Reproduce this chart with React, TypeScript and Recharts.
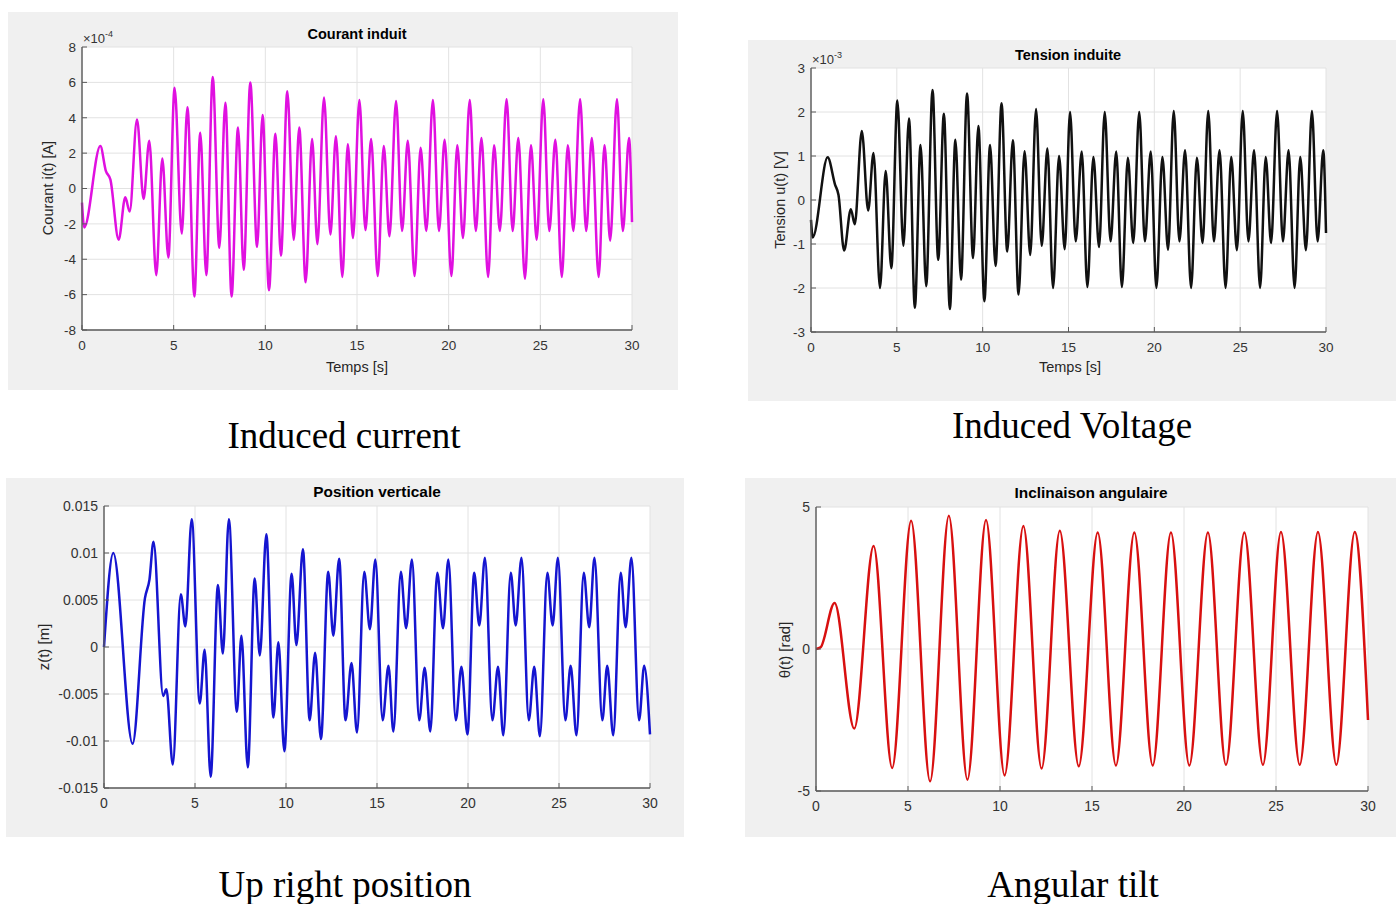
import React from 'react';
import { LineChart, Line, XAxis, YAxis, CartesianGrid } from 'recharts';

const SANS = '"Liberation Sans", Arial, Helvetica, sans-serif';
const SERIF = '"Liberation Serif", "Times New Roman", serif';

const timeTicks = [0, 5, 10, 15, 20, 25, 30];

// ---- Courant induit (units of 1e-4 A) ----
const courantT = [0, 0.12, 1.0, 1.3, 1.55, 2.0, 2.36, 2.6, 3.0, 3.36, 3.67, 4.05, 4.38, 4.71, 5.05, 5.44, 5.75, 6.13, 6.45, 6.78, 7.13, 7.49, 7.82, 8.16, 8.51, 8.82, 9.18, 9.55, 9.85, 10.2, 10.55, 10.85, 11.2, 11.55, 11.85, 12.2, 12.55, 12.84, 13.2, 13.55, 13.85, 14.2, 14.5, 14.78, 15.13, 15.46, 15.77, 16.13, 16.46, 16.77, 17.13, 17.46, 17.77, 18.14, 18.47, 18.78, 19.14, 19.47, 19.78, 20.15, 20.47, 20.78, 21.15, 21.48, 21.79, 22.15, 22.48, 22.79, 23.16, 23.49, 23.8, 24.16, 24.49, 24.8, 25.16, 25.49, 25.82, 26.17, 26.5, 26.8, 27.17, 27.5, 27.81, 28.18, 28.5, 28.81, 29.18, 29.5, 29.84, 30];
const courantI = [-0.8, -2.2, 2.4, 1.0, 0.5, -2.9, -0.5, -1.3, 3.9, -0.6, 2.7, -4.9, 1.7, -3.9, 5.7, -2.55, 4.6, -6.1, 3.15, -4.9, 6.3, -3.35, 4.85, -6.1, 3.45, -4.6, 6.0, -3.3, 4.15, -5.75, 3.1, -3.8, 5.5, -2.9, 3.45, -5.3, 2.8, -3.15, 5.15, -2.6, 2.95, -5.0, 2.5, -2.8, 5.0, -2.35, 2.8, -4.95, 2.4, -2.7, 4.95, -2.4, 2.7, -4.95, 2.3, -2.4, 5.0, -2.4, 2.75, -4.95, 2.45, -2.8, 5.0, -2.4, 2.85, -5.0, 2.45, -2.4, 5.05, -2.4, 2.85, -5.1, 2.45, -2.9, 5.05, -2.4, 2.75, -5.0, 2.45, -2.4, 5.05, -2.4, 2.85, -5.0, 2.45, -2.95, 5.05, -2.4, 2.85, -1.9];
const courantTicks = [-8, -6, -4, -2, 0, 2, 4, 6, 8];

// ---- Tension induite (units of 1e-3 V) ----
const tensionT = [0, 0.1, 0.97, 1.4, 1.6, 1.93, 2.32, 2.55, 2.96, 3.33, 3.64, 4.02, 4.35, 4.68, 5.03, 5.38, 5.71, 6.05, 6.38, 6.71, 7.08, 7.41, 7.74, 8.09, 8.41, 8.74, 9.09, 9.44, 9.75, 10.1, 10.43, 10.75, 11.1, 11.43, 11.76, 12.09, 12.44, 12.77, 13.11, 13.44, 13.77, 14.1, 14.45, 14.78, 15.09, 15.42, 15.77, 16.1, 16.45, 16.78, 17.11, 17.45, 17.78, 18.11, 18.46, 18.77, 19.12, 19.45, 19.79, 20.12, 20.47, 20.8, 21.13, 21.46, 21.79, 22.14, 22.48, 22.81, 23.14, 23.47, 23.8, 24.15, 24.48, 24.81, 25.15, 25.48, 25.81, 26.16, 26.49, 26.8, 27.15, 27.49, 27.82, 28.17, 28.5, 28.83, 29.18, 29.51, 29.84, 30];
const tensionU = [-0.45, -0.85, 0.97, 0.35, 0.12, -1.15, -0.21, -0.55, 1.57, -0.24, 1.07, -2.0, 0.66, -1.55, 2.26, -1.04, 1.85, -2.45, 1.25, -1.96, 2.5, -1.36, 1.96, -2.48, 1.37, -1.81, 2.42, -1.32, 1.68, -2.3, 1.25, -1.5, 2.2, -1.17, 1.36, -2.15, 1.11, -1.25, 2.07, -1.04, 1.17, -2.0, 1.0, -1.12, 2.0, -0.94, 1.1, -1.98, 0.98, -1.07, 2.0, -0.94, 1.1, -1.98, 0.96, -0.98, 2.0, -0.94, 1.1, -2.0, 0.98, -1.13, 2.02, -0.94, 1.13, -2.0, 0.96, -0.98, 2.02, -0.94, 1.13, -2.0, 0.98, -1.14, 2.02, -0.94, 1.13, -2.0, 0.98, -0.98, 2.02, -0.94, 1.13, -2.0, 0.98, -1.14, 2.02, -0.94, 1.13, -0.75];
const tensionTicks = [-3, -2, -1, 0, 1, 2, 3];

// ---- Position verticale (m) ----
const positionT = [0, 0.51, 1.57, 2.25, 2.5, 2.72, 3.25, 3.43, 3.78, 4.22, 4.47, 4.82, 5.26, 5.53, 5.86, 6.26, 6.53, 6.86, 7.3, 7.55, 7.9, 8.28, 8.56, 8.92, 9.31, 9.58, 9.91, 10.31, 10.57, 10.93, 11.3, 11.6, 11.92, 12.32, 12.6, 12.92, 13.27, 13.6, 13.9, 14.3, 14.61, 14.91, 15.31, 15.63, 15.9, 16.31, 16.6, 16.92, 17.32, 17.62, 17.93, 18.31, 18.63, 18.92, 19.33, 19.64, 19.97, 20.34, 20.62, 20.93, 21.34, 21.65, 21.94, 22.35, 22.62, 22.94, 23.34, 23.64, 23.95, 24.36, 24.65, 24.94, 25.35, 25.64, 25.96, 26.36, 26.66, 26.95, 27.38, 27.65, 27.98, 28.39, 28.66, 28.98, 29.4, 29.68, 30];
const positionZ = [0, 0.01, -0.0103, 0.0052, 0.0072, 0.0112, -0.0052, -0.0045, -0.0125, 0.0056, 0.0022, 0.0136, -0.006, -0.0003, -0.0138, 0.0066, -0.0007, 0.0136, -0.0069, 0.0012, -0.0128, 0.0073, -0.0009, 0.012, -0.0075, 0.0005, -0.0111, 0.0078, 0.0002, 0.0104, -0.0078, -0.0006, -0.0098, 0.008, 0.0012, 0.0094, -0.0078, -0.0017, -0.0091, 0.008, 0.0019, 0.0093, -0.0078, -0.002, -0.009, 0.008, 0.002, 0.0093, -0.0078, -0.0022, -0.009, 0.0079, 0.002, 0.0093, -0.0078, -0.0021, -0.0093, 0.0079, 0.0023, 0.0095, -0.0078, -0.0021, -0.0094, 0.0079, 0.0023, 0.0095, -0.0078, -0.0021, -0.0095, 0.0079, 0.0023, 0.0095, -0.0078, -0.002, -0.0094, 0.0079, 0.0021, 0.0095, -0.0078, -0.002, -0.0094, 0.0079, 0.0021, 0.0095, -0.0078, -0.002, -0.0093];
const positionTicks = [-0.015, -0.01, -0.005, 0, 0.005, 0.01, 0.015];

// ---- Inclinaison angulaire (rad) ----
const angleT = [0, 0.25, 1.01, 2.08, 3.13, 4.14, 5.17, 6.2, 7.22, 8.23, 9.24, 10.25, 11.27, 12.26, 13.25, 14.28, 15.31, 16.3, 17.3, 18.3, 19.29, 20.29, 21.3, 22.28, 23.28, 24.29, 25.27, 26.29, 27.28, 28.28, 29.28, 30];
const angleTheta = [0, 0.06, 1.62, -2.8, 3.63, -4.19, 4.52, -4.66, 4.69, -4.6, 4.54, -4.45, 4.33, -4.21, 4.16, -4.13, 4.1, -4.1, 4.1, -4.1, 4.1, -4.1, 4.1, -4.08, 4.1, -4.08, 4.12, -4.08, 4.12, -4.08, 4.12, -2.5];
const angleTicks = [-5, 0, 5];

const zip = (ts: number[], vs: number[]) => ts.map((t, i) => ({ t, v: vs[i] }));

type Box = { x: number; y: number; w: number; h: number };
type Plot = { l: number; t: number; r: number; b: number };

interface PanelProps {
  box: Box;
  plot: Plot;
  data: { t: number; v: number }[];
  color: string;
  yDomain: [number, number];
  yTicks: number[];
  tickFont: number;
}

function Panel({ box, plot, data, color, yDomain, yTicks, tickFont }: PanelProps) {
  const axisColor = '#5a5a5a';
  const axisLine = { stroke: axisColor, strokeWidth: 1.4 };
  const tickLine = { stroke: axisColor, strokeWidth: 1 };
  const tickStyle = { fill: '#333', fontSize: tickFont, fontFamily: SANS };
  const blank = () => '';
  return (
    <div style={{ position: 'absolute', left: box.x, top: box.y, width: box.w, height: box.h, background: '#f0f0f0' }}>
      <LineChart
        width={box.w}
        height={box.h}
        data={data}
        margin={{ top: plot.t - box.y, right: box.x + box.w - plot.r, bottom: 0, left: 0 }}
      >
        <CartesianGrid xAxisId="b" yAxisId="l" stroke="#e2e2e2" strokeWidth={1} fill="#ffffff" />
        <XAxis
          xAxisId="b"
          dataKey="t"
          type="number"
          domain={[0, 30]}
          ticks={timeTicks}
          interval={0}
          height={box.y + box.h - plot.b}
          axisLine={axisLine}
          tickLine={tickLine}
          tickSize={-5}
          tickMargin={15}
          tick={tickStyle}
        />
        <XAxis
          xAxisId="tp"
          orientation="top"
          type="number"
          dataKey="t"
          domain={[0, 30]}
          ticks={timeTicks}
          interval={0}
          height={0}
          axisLine={axisLine}
          tickLine={tickLine}
          tickSize={-5}
          tickFormatter={blank}
        />
        <YAxis
          yAxisId="l"
          type="number"
          domain={yDomain}
          ticks={yTicks}
          interval={0}
          width={plot.l - box.x}
          axisLine={axisLine}
          tickLine={tickLine}
          tickSize={-5}
          tickMargin={11}
          tick={tickStyle}
        />
        <YAxis
          yAxisId="r"
          orientation="right"
          type="number"
          domain={yDomain}
          ticks={yTicks}
          interval={0}
          width={0}
          axisLine={axisLine}
          tickLine={tickLine}
          tickSize={-5}
          tickFormatter={blank}
        />
        <Line
          xAxisId="b"
          yAxisId="l"
          dataKey="v"
          type="monotone"
          stroke={color}
          strokeWidth={2.5}
          dot={false}
          isAnimationActive={false}
        />
      </LineChart>
    </div>
  );
}

interface TxtProps {
  x: number;
  y: number;
  size: number;
  bold?: boolean;
  rotate?: boolean;
  serif?: boolean;
  color?: string;
  children: React.ReactNode;
}

function Txt({ x, y, size, bold, rotate, serif, color, children }: TxtProps) {
  return (
    <div
      style={{
        position: 'absolute',
        left: x,
        top: y,
        transform: `translate(-50%, -50%)${rotate ? ' rotate(-90deg)' : ''}`,
        whiteSpace: 'nowrap',
        fontSize: size,
        fontWeight: bold ? 700 : 400,
        fontFamily: serif ? SERIF : SANS,
        lineHeight: 1,
        color: color || (serif ? '#000' : '#262626'),
      }}
    >
      {children}
    </div>
  );
}

function Exponent({ x, y, exp }: { x: number; y: number; exp: string }) {
  return (
    <div style={{ position: 'absolute', left: x, top: y, fontFamily: SANS, fontSize: 13, lineHeight: 1, color: '#333', whiteSpace: 'nowrap' }}>
      ×10<span style={{ fontSize: 9, position: 'relative', top: -6 }}>{exp}</span>
    </div>
  );
}

export default function App() {
  const courantData = zip(courantT, courantI);
  const tensionData = zip(tensionT, tensionU);
  const positionData = zip(positionT, positionZ);
  const angleData = zip(angleT, angleTheta);

  return (
    <div style={{ position: 'absolute', left: 0, top: 0, width: 1399, height: 904, background: '#ffffff', overflow: 'hidden' }}>
      <Panel
        box={{ x: 8, y: 12, w: 670, h: 378 }}
        plot={{ l: 82, t: 47, r: 632, b: 330 }}
        data={courantData}
        color="#e010e0"
        yDomain={[-8, 8]}
        yTicks={courantTicks}
        tickFont={13.5}
      />
      <Panel
        box={{ x: 748, y: 40, w: 648, h: 361 }}
        plot={{ l: 811, t: 68, r: 1326, b: 332 }}
        data={tensionData}
        color="#111111"
        yDomain={[-3, 3]}
        yTicks={tensionTicks}
        tickFont={13.5}
      />
      <Panel
        box={{ x: 6, y: 478, w: 678, h: 359 }}
        plot={{ l: 104, t: 506, r: 650, b: 788 }}
        data={positionData}
        color="#1515d0"
        yDomain={[-0.015, 0.015]}
        yTicks={positionTicks}
        tickFont={14}
      />
      <Panel
        box={{ x: 745, y: 478, w: 651, h: 359 }}
        plot={{ l: 816, t: 507, r: 1368, b: 791 }}
        data={angleData}
        color="#d81010"
        yDomain={[-5, 5]}
        yTicks={angleTicks}
        tickFont={14}
      />

      {/* Panel 1 texts */}
      <Txt x={357} y={34} size={14.5} bold color="#000">Courant induit</Txt>
      <Exponent x={83} y={32} exp="-4" />
      <Txt x={48} y={188} size={14.5} rotate>Courant i(t) [A]</Txt>
      <Txt x={357} y={367} size={14.5}>Temps [s]</Txt>

      {/* Panel 2 texts */}
      <Txt x={1068} y={55} size={14.5} bold color="#000">Tension induite</Txt>
      <Exponent x={812} y={53} exp="-3" />
      <Txt x={780} y={200} size={14.5} rotate>Tension u(t) [V]</Txt>
      <Txt x={1070} y={367} size={14.5}>Temps [s]</Txt>

      {/* Panel 3 texts */}
      <Txt x={377} y={492} size={15.4} bold color="#000">Position verticale</Txt>
      <Txt x={43} y={647} size={15} rotate>z(t) [m]</Txt>

      {/* Panel 4 texts */}
      <Txt x={1091} y={493} size={15.4} bold color="#000">Inclinaison angulaire</Txt>
      <Txt x={784} y={650} size={15} rotate>θ(t) [rad]</Txt>

      {/* Captions */}
      <Txt x={344} y={435} size={37} serif>Induced current</Txt>
      <Txt x={1072} y={425} size={37} serif>Induced Voltage</Txt>
      <Txt x={345} y={884} size={37} serif>Up right position</Txt>
      <Txt x={1073} y={884} size={37} serif>Angular tilt</Txt>
    </div>
  );
}
